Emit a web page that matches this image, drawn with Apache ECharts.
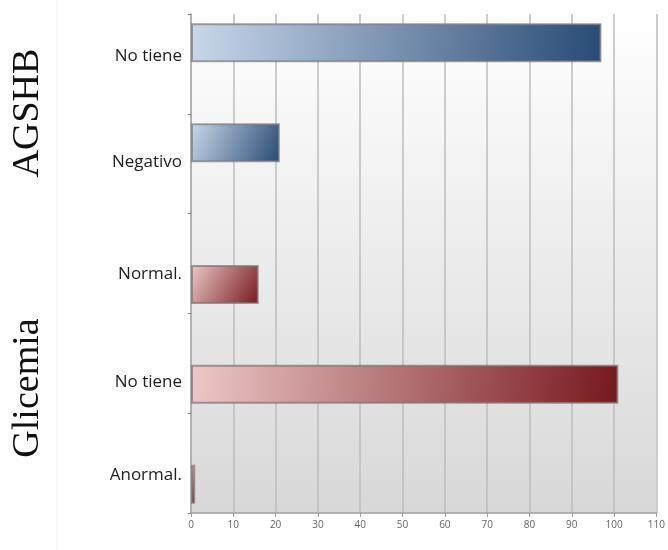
<!DOCTYPE html>
<html>
<head>
<meta charset="utf-8">
<script src="https://cdn.jsdelivr.net/npm/echarts@6/dist/echarts.min.js"></script>
<style>
  html, body { margin: 0; padding: 0; background: #ffffff; }
  #chart { width: 668px; height: 550px; }
</style>
</head>
<body>
<div id="chart"></div>
<script>
// Categories, top to bottom
const categories = ['No tiene', 'Negativo', 'Normal.', 'No tiene', 'Anormal.'];
// AGSHB results (first two rows)
const agshbValues = [97, 21, '-', '-', '-'];
// Glicemia results (last three rows)
const glicemiaValues = ['-', '-', 16, 101, 1];
// Value axis ticks
const xMin = 0;
const xMax = 110;
const xStep = 10;
// Group titles drawn at the left
const groupTitles = ['AGSHB', 'Glicemia'];

// Vertical nudge (px) of each category label relative to its band centre
const labelShift = [-8, -2, 11, 19, 12];

const chart = echarts.init(document.getElementById('chart'), null, { renderer: 'canvas' });

function diag(light, dark) {
  return new echarts.graphic.LinearGradient(0, 0, 1, 1, [
    { offset: 0, color: light },
    { offset: 1, color: dark }
  ]);
}

// One rich style per row so each label can sit at its own height
const labelRich = {};
labelShift.forEach((d, i) => {
  labelRich['r' + i] = {
    color: '#1e1e1e',
    fontSize: 17,
    fontFamily: 'Open Sans',
    padding: d >= 0 ? [2 * d, 0, 0, 0] : [0, 0, -2 * d, 0]
  };
});

const option = {
  animation: false,
  backgroundColor: '#ffffff',
  grid: {
    left: 191, right: 5, top: 14, bottom: 37,
    show: true,
    borderWidth: 0,
    backgroundColor: new echarts.graphic.LinearGradient(0, 0, 0, 1, [
      { offset: 0, color: '#ffffff' },
      { offset: 1, color: '#d8d8d8' }
    ])
  },
  xAxis: {
    type: 'value',
    min: xMin, max: xMax, interval: xStep,
    axisLine: { show: true, lineStyle: { color: '#a0a0a0', width: 1.5 } },
    axisTick: { show: true, length: 4, lineStyle: { color: '#a0a0a0' } },
    axisLabel: { color: '#666666', fontSize: 10, fontFamily: 'Open Sans', margin: 7 },
    splitLine: { show: true, lineStyle: { color: '#bcbcbc', width: 1.5 } }
  },
  yAxis: {
    type: 'category',
    inverse: true,
    data: categories,
    axisLine: { show: true, lineStyle: { color: '#a8a8a8', width: 1.5 } },
    axisTick: { show: true, length: 3, lineStyle: { color: '#888888' } },
    axisLabel: {
      margin: 9,
      color: '#1e1e1e',
      fontSize: 17,
      fontFamily: 'Open Sans',
      formatter: (value, index) => '{r' + index + '|' + value + '}',
      rich: labelRich
    }
  },
  series: [
    {
      name: groupTitles[0],
      type: 'bar',
      data: agshbValues,
      barWidth: 39,
      barGap: '8%',
      itemStyle: {
        color: diag('#c9d8ea', '#284a74'),
        borderColor: 'rgba(120,120,128,0.7)',
        borderWidth: 2
      }
    },
    {
      name: groupTitles[1],
      type: 'bar',
      data: glicemiaValues,
      barWidth: 39,
      barGap: '8%',
      itemStyle: {
        color: diag('#edc8c8', '#76181d'),
        borderColor: 'rgba(128,112,112,0.7)',
        borderWidth: 2
      }
    }
  ],
  graphic: [
    {
      type: 'line',
      shape: { x1: 57, y1: 0, x2: 57, y2: 550 },
      style: { stroke: '#f0f0f0', lineWidth: 1 },
      silent: true
    },
    {
      type: 'text',
      x: 28, y: 113,
      rotation: Math.PI / 2,
      style: {
        text: groupTitles[0],
        font: '38px "Liberation Serif"',
        fill: '#111111',
        align: 'center',
        verticalAlign: 'middle'
      }
    },
    {
      type: 'text',
      x: 28, y: 388,
      rotation: Math.PI / 2,
      style: {
        text: groupTitles[1],
        font: '38px "Liberation Serif"',
        fill: '#111111',
        align: 'center',
        verticalAlign: 'middle'
      }
    }
  ]
};

chart.setOption(option);
</script>
</body>
</html>
